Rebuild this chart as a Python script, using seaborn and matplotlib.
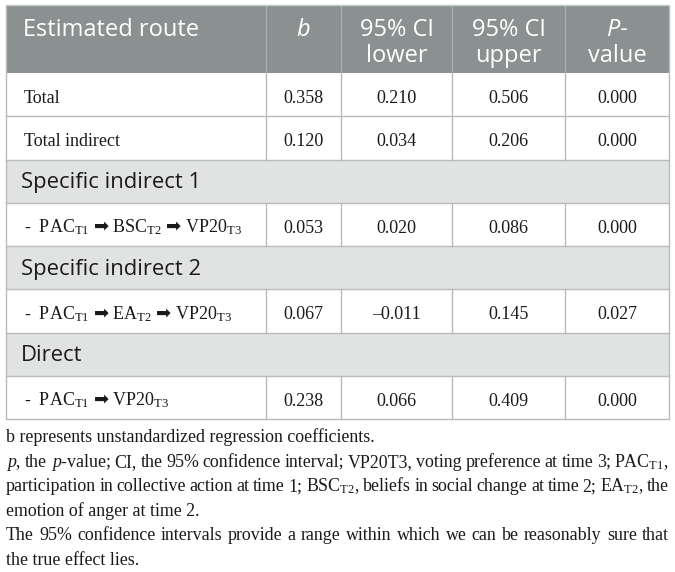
import matplotlib
matplotlib.use("Agg")
import matplotlib.pyplot as plt
import seaborn as sns
from matplotlib.patches import Rectangle

sns.set_theme(style="white")
plt.rcParams["font.family"] = ["Liberation Serif", "DejaVu Sans"]
plt.rcParams["mathtext.fontset"] = "custom"
plt.rcParams["mathtext.rm"] = "Liberation Serif"
plt.rcParams["mathtext.it"] = "Liberation Serif:italic"
plt.rcParams["mathtext.sf"] = "DejaVu Sans"

ARROW = r"$\mathsf{➡}$"


def sub(name, s):
    return name + r"$_{\mathrm{" + s + "}}$"


# ---- data ----
header_lines = [["Estimated route"], ["b"], ["95% CI", "lower"], ["95% CI", "upper"], ["P-", "value"]]
header_italic = ["b", "P-"]

routes = ["Total",
          "Total indirect",
          "Specific indirect 1",
          "-  " + sub("PAC", "T1") + " " + ARROW + " " + sub("BSC", "T2") + " " + ARROW + " " + sub("VP20", "T3"),
          "Specific indirect 2",
          "-  " + sub("PAC", "T1") + " " + ARROW + " " + sub("EA", "T2") + " " + ARROW + " " + sub("VP20", "T3"),
          "Direct",
          "-  " + sub("PAC", "T1") + " " + ARROW + " " + sub("VP20", "T3")]
is_section = [False, False, True, False, True, False, True, False]
b_vals = [0.358, 0.120, None, 0.053, None, 0.067, None, 0.238]
ci_lower = [0.210, 0.034, None, 0.020, None, -0.011, None, 0.066]
ci_upper = [0.506, 0.206, None, 0.086, None, 0.145, None, 0.409]
p_vals = [0.000, 0.000, None, 0.000, None, 0.027, None, 0.000]

notes = ["b represents unstandardized regression coefficients.",
         r"$\mathit{p}$, the $\mathit{p}$-value; CI, the 95% confidence interval; VP20T3, voting preference at time 3; "
         + sub("PAC", "T1") + ",",
         "participation in collective action at time 1; " + sub("BSC", "T2")
         + ", beliefs in social change at time 2; " + sub("EA", "T2") + ", the",
         "emotion of anger at time 2.",
         "The 95% confidence intervals provide a range within which we can be reasonably sure that",
         "the true effect lies."]
notes_justify = [False, True, True, False, True, False]

# ---- style ----
HEAD = "#8b9090"
HEAD_SEP = "#a9adad"
BAND = "#e1e3e2"
LINE = "#b7bbba"
TXT = "#1a1a1a"
SANS = "Open Sans"
BODY_FS = 13

col_x = [6, 265.5, 341, 452, 565, 669]
top, head_bot, bottom = 5, 73, 419
row_h = (bottom - head_bot) / len(routes)

fig = plt.figure(figsize=(6.75, 5.72), dpi=100)
ax = fig.add_axes([0, 0, 1, 1])
ax.set_xlim(0, 675)
ax.set_ylim(572, 0)
ax.axis("off")

# header
ax.add_patch(Rectangle((col_x[0], top), col_x[-1] - col_x[0], head_bot - top, fc=HEAD, ec="none"))
for x in col_x[1:-1]:
    ax.plot([x, x], [top, head_bot], color=HEAD_SEP, lw=1.0)
for i, lines in enumerate(header_lines):
    for j, line in enumerate(lines):
        style = "italic" if line in header_italic else "normal"
        if i == 0:
            ax.text(col_x[0] + 17, 36, line, fontsize=17, family=SANS, color="white",
                    ha="left", va="baseline", style=style)
        else:
            ax.text((col_x[i] + col_x[i + 1]) / 2, 36 + 26 * j, line, fontsize=17, family=SANS,
                    color="white", ha="center", va="baseline", style=style)

# body
value_cols = [b_vals, ci_lower, ci_upper, p_vals]
for r, label in enumerate(routes):
    y0 = head_bot + r * row_h
    if is_section[r]:
        ax.add_patch(Rectangle((col_x[0], y0), col_x[-1] - col_x[0], row_h, fc=BAND, ec="none"))
        ax.text(col_x[0] + 15, y0 + 28.5, label, fontsize=15.8, family=SANS, color=TXT,
                ha="left", va="baseline")
    else:
        for x in col_x[1:-1]:
            ax.plot([x, x], [y0, y0 + row_h], color=LINE, lw=1.0)
        ax.text(col_x[0] + 18, y0 + 30, label, fontsize=BODY_FS, color=TXT, ha="left", va="baseline")
        for c, vals in enumerate(value_cols):
            s = f"{vals[r]:.3f}".replace("-", "\u2013")
            ax.text((col_x[c + 1] + col_x[c + 2]) / 2, y0 + 30, s, fontsize=BODY_FS, color=TXT,
                    ha="center", va="baseline")
    ax.plot([col_x[0], col_x[-1]], [y0 + row_h, y0 + row_h], color=LINE, lw=1.0)

# outer border
ax.plot([col_x[0], col_x[0]], [top, bottom], color=LINE, lw=1.0)
ax.plot([col_x[-1], col_x[-1]], [top, bottom], color=LINE, lw=1.0)
ax.plot([col_x[0], col_x[-1]], [top, top], color="#c6cac9", lw=1.0)

# footnotes, justified like the journal layout
fig.canvas.draw()
renderer = fig.canvas.get_renderer()
left, right = 6, 669


def word_widths(words, fs):
    ts = [ax.text(0, 0, w, fontsize=fs) for w in words]
    ws = [t.get_window_extent(renderer).width for t in ts]
    for t in ts:
        t.remove()
    return ws


note_fs = 13.0
while note_fs > 10:
    ok = True
    for note, just in zip(notes, notes_justify):
        if just:
            words = note.split(" ")
            gap = (right - left - sum(word_widths(words, note_fs))) / (len(words) - 1)
            if gap < 3.4:
                ok = False
                break
    if ok:
        break
    note_fs = round(note_fs - 0.1, 1)

for k, (note, just) in enumerate(zip(notes, notes_justify)):
    y = 442 + 24.6 * k
    if not just:
        ax.text(left, y, note, fontsize=note_fs, color=TXT, ha="left", va="baseline")
        continue
    words = note.split(" ")
    widths = word_widths(words, note_fs)
    gap = (right - left - sum(widths)) / (len(words) - 1)
    x = left
    for w, wd in zip(words, widths):
        ax.text(x, y, w, fontsize=note_fs, color=TXT, ha="left", va="baseline")
        x += wd + gap

fig.savefig("out.png", dpi=100)
